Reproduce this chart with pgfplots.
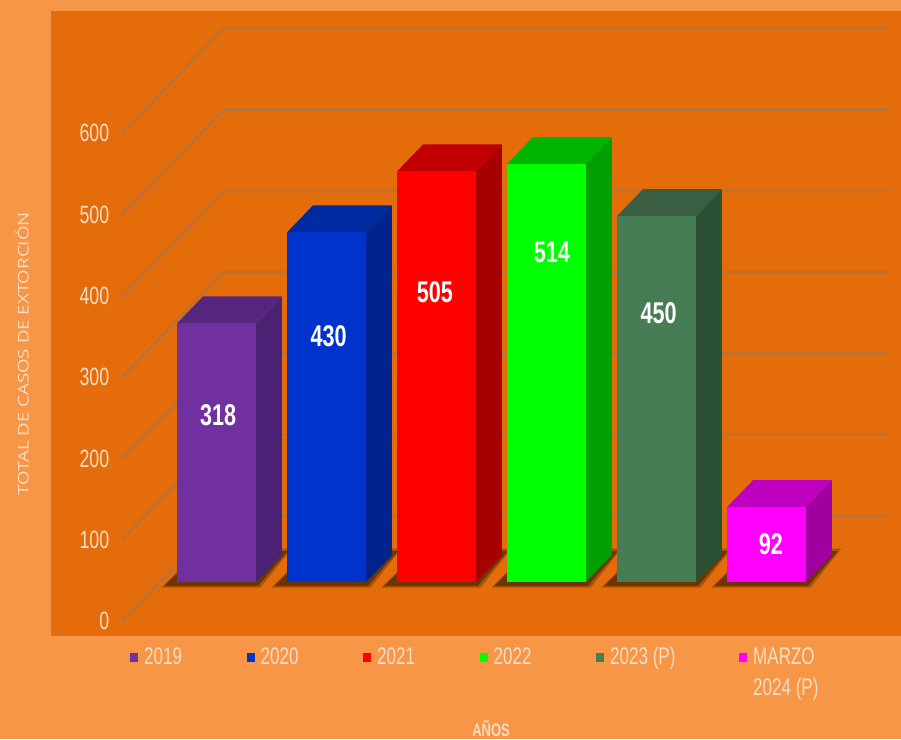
\documentclass[border=0pt]{standalone}
\usepackage{pgfplots}
\pgfplotsset{compat=1.18}
\usepackage{fontspec}
\setmainfont{Liberation Sans}
\newfontfamily\narrowf[FakeStretch=0.71]{Liberation Sans}
\newfontfamily\narrowb[FakeStretch=0.72]{Liberation Sans Bold}
\newfontfamily\widef[FakeStretch=1.27]{Open Sans}
\definecolor{outer}{HTML}{F79646}
\definecolor{inner}{HTML}{E46C0A}
\definecolor{gridc}{HTML}{BC7236}
\definecolor{txt}{HTML}{F6DEC6}
\definecolor{shad}{HTML}{6E3503}
\definecolor{shadb}{HTML}{A9530A}
\definecolor{cA}{HTML}{7030A0}\definecolor{cAt}{HTML}{56267F}\definecolor{cAs}{HTML}{4C2275}
\definecolor{cB}{HTML}{0033CC}\definecolor{cBt}{HTML}{002AA0}\definecolor{cBs}{HTML}{00238E}
\definecolor{cC}{HTML}{FF0000}\definecolor{cCt}{HTML}{C00000}\definecolor{cCs}{HTML}{A80000}
\definecolor{cD}{HTML}{00FF00}\definecolor{cDt}{HTML}{00B400}\definecolor{cDs}{HTML}{00A000}
\definecolor{cE}{HTML}{477D55}\definecolor{cEt}{HTML}{3A5E42}\definecolor{cEs}{HTML}{2C5034}
\definecolor{cF}{HTML}{FF00FF}\definecolor{cFt}{HTML}{C000C0}\definecolor{cFs}{HTML}{A000A0}
\pgfplotsset{
  front/.style={ybar,bar shift=0pt,bar width=79pt,fill=#1,draw=none,
    legend image code/.code={\fill[#1] (0pt,2pt) rectangle (8pt,11pt);}},
  face/.style={fill=#1,draw=none,forget plot},
  wall/.style={gridc,line width=2.6pt,forget plot,line join=round},
}
\begin{document}
\begin{tikzpicture}[x=1pt,y=1pt]
\useasboundingbox (0,0) rectangle (901,739);
\fill[outer] (0,0) rectangle (901,739);
\fill[inner] (51,103) rectangle (901,728);
% walls and value ticks
\begin{axis}[
  at={(117pt,0pt)},anchor=south west,scale only axis,width=784pt,height=739pt,
  xmin=117,xmax=901,ymin=-145.14,ymax=763.84,
  xtick=\empty,ytick={0,100,200,300,400,500,600},
  tick style={draw=none},axis line style={draw=none},
  tick label style={/pgf/number format/assume math mode=true},
  yticklabel style={font=\narrowf\fontsize{25}{25}\selectfont,text=txt},
  tick align=outside,
  ylabel={TOTAL DE CASOS DE EXTORCIÓN},
  every axis y label/.style={at={(axis description cs:-0.1212,0.521)},rotate=90,anchor=center,
    font=\widef\fontsize{14.7}{15}\selectfont,text=txt},
]
\addplot[wall] coordinates {(122,0)(224,129.2)(888,129.2)};
\addplot[wall] coordinates {(122,100)(224,229.2)(888,229.2)};
\addplot[wall] coordinates {(122,200)(224,329.2)(888,329.2)};
\addplot[wall] coordinates {(122,300)(224,429.2)(888,429.2)};
\addplot[wall] coordinates {(122,400)(224,529.2)(888,529.2)};
\addplot[wall] coordinates {(122,500)(224,629.2)(888,629.2)};
\addplot[wall] coordinates {(122,600)(224,729.2)(888,729.2)};
\end{axis}
% bars
\begin{axis}[
  at={(0pt,0pt)},anchor=south west,scale only axis,width=901pt,height=739pt,
  xmin=-1.968,xmax=6.223,ymin=-193.1,ymax=715.9,
  ticks=none,axis line style={draw=none},
  xlabel={AÑOS},
  every axis x label/.style={at={(axis description cs:0.545,0.0035)},anchor=base,
    font=\narrowb\fontsize{18}{18}\selectfont,text=txt},
  legend style={at={(axis description cs:0.1445,0.1250)},anchor=north west,draw=none,fill=none,
    font=\narrowf\fontsize{24}{26}\selectfont,text=txt,inner sep=0pt,outer sep=0pt,
    nodes={inner sep=0pt,anchor=base west},
    /tikz/every even column/.append style={column sep=0pt},
    /tikz/every odd column/.append style={column sep=6pt}},
  legend columns=6,legend cell align=left,
]
% 2019
\addplot[face=shadb] coordinates {(-0.50,-7)(0.40,-7)(0.68,41)(-0.15,41)} --cycle;
\addplot[face=shad] coordinates {(-0.477,-4.9)(0.377,-4.9)(0.65,38.1)(-0.15,38.1)} --cycle;
\addplot[face=cAs] coordinates {(0.359,0)(0.595,33.2)(0.595,351.2)(0.359,318)} --cycle;
\addplot[face=cAt] coordinates {(-0.359,318)(0.359,318)(0.595,351.2)(-0.123,351.2)} --cycle;
\addplot[front=cA] coordinates {(0,318)};
\addlegendentry{\makebox[102.5pt][l]{2019}}
% 2020
\addplot[face=shadb] coordinates {(0.50,-7)(1.40,-7)(1.68,41)(0.85,41)} --cycle;
\addplot[face=shad] coordinates {(0.523,-4.9)(1.377,-4.9)(1.65,38.1)(0.85,38.1)} --cycle;
\addplot[face=cBs] coordinates {(1.359,0)(1.595,33.2)(1.595,463.2)(1.359,430)} --cycle;
\addplot[face=cBt] coordinates {(0.641,430)(1.359,430)(1.595,463.2)(0.877,463.2)} --cycle;
\addplot[front=cB] coordinates {(1,430)};
\addlegendentry{\makebox[102.5pt][l]{2020}}
% 2021
\addplot[face=shadb] coordinates {(1.50,-7)(2.40,-7)(2.68,41)(1.85,41)} --cycle;
\addplot[face=shad] coordinates {(1.523,-4.9)(2.377,-4.9)(2.65,38.1)(1.85,38.1)} --cycle;
\addplot[face=cCs] coordinates {(2.359,0)(2.595,33.2)(2.595,538.2)(2.359,505)} --cycle;
\addplot[face=cCt] coordinates {(1.641,505)(2.359,505)(2.595,538.2)(1.877,538.2)} --cycle;
\addplot[front=cC] coordinates {(2,505)};
\addlegendentry{\makebox[102.5pt][l]{2021}}
% 2022
\addplot[face=shadb] coordinates {(2.50,-7)(3.40,-7)(3.68,41)(2.85,41)} --cycle;
\addplot[face=shad] coordinates {(2.523,-4.9)(3.377,-4.9)(3.65,38.1)(2.85,38.1)} --cycle;
\addplot[face=cDs] coordinates {(3.359,0)(3.595,33.2)(3.595,547.2)(3.359,514)} --cycle;
\addplot[face=cDt] coordinates {(2.641,514)(3.359,514)(3.595,547.2)(2.877,547.2)} --cycle;
\addplot[front=cD] coordinates {(3,514)};
\addlegendentry{\makebox[102.5pt][l]{2022}}
% 2023
\addplot[face=shadb] coordinates {(3.50,-7)(4.40,-7)(4.68,41)(3.85,41)} --cycle;
\addplot[face=shad] coordinates {(3.523,-4.9)(4.377,-4.9)(4.65,38.1)(3.85,38.1)} --cycle;
\addplot[face=cEs] coordinates {(4.359,0)(4.595,33.2)(4.595,483.2)(4.359,450)} --cycle;
\addplot[face=cEt] coordinates {(3.641,450)(4.359,450)(4.595,483.2)(3.877,483.2)} --cycle;
\addplot[front=cE] coordinates {(4,450)};
\addlegendentry{\makebox[129pt][l]{2023 (P)}}
% 2024
\addplot[face=shadb] coordinates {(4.50,-7)(5.40,-7)(5.68,41)(4.85,41)} --cycle;
\addplot[face=shad] coordinates {(4.523,-4.9)(5.377,-4.9)(5.65,38.1)(4.85,38.1)} --cycle;
\addplot[face=cFs] coordinates {(5.359,0)(5.595,33.2)(5.595,125.2)(5.359,92)} --cycle;
\addplot[face=cFt] coordinates {(4.641,92)(5.359,92)(5.595,125.2)(4.877,125.2)} --cycle;
\addplot[front=cF] coordinates {(5,92)};
\addlegendentry{\parbox[t]{100pt}{\baselineskip=31pt MARZO\\2024 (P)}}
% value labels
\begin{scope}[every node/.style={text=white,font=\narrowb\fontsize{30}{30}\selectfont,anchor=center}]
\node at (axis cs:0.014,205) {318};
\node at (axis cs:1.02,302.6) {430};
\node at (axis cs:1.986,356.7) {505};
\node at (axis cs:3.05,405.9) {514};
\node at (axis cs:4.02,330.9) {450};
\node at (axis cs:5.04,46.7) {92};
\end{scope}
\end{axis}
\end{tikzpicture}
\end{document}
